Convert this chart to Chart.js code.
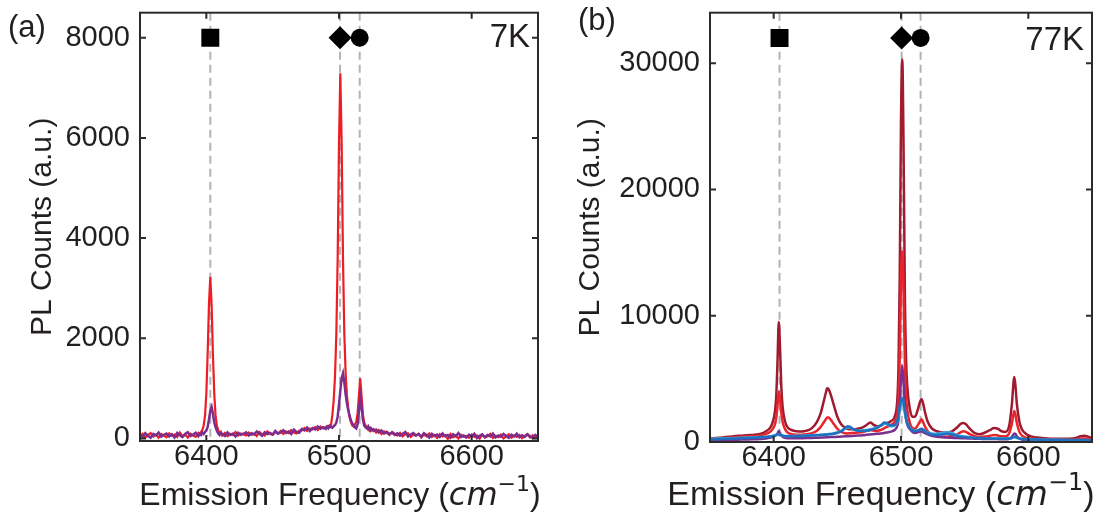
<!DOCTYPE html>
<html>
<head>
<meta charset="utf-8">
<title>PL spectra 7K / 77K</title>
<script src="https://cdn.jsdelivr.net/npm/chart.js@4.4.0/dist/chart.umd.min.js"></script>
<style>
  html, body { margin: 0; padding: 0; background: #fff; }
  #wrap { position: relative; width: 1109px; height: 516px; }
  canvas { position: absolute; top: 0; }
  #chartA { left: 0; }
  #chartB { left: 555px; }
</style>
</head>
<body>
<div id="wrap">
  <canvas id="chartA" width="555" height="516"></canvas>
  <canvas id="chartB" width="554" height="516"></canvas>
</div>
<script>
// ---- shared axis data ----
const freqTicks = [6400, 6500, 6600];
const countTicksA = [0, 2000, 4000, 6000, 8000];
const countTicksB = [0, 10000, 20000, 30000];

// peak guide positions (cm^-1) and the symbols drawn above them
const guidesA = [6403, 6500.8, 6515.6];
const guidesB = [6404.6, 6500.5, 6515.4];
const markerStyles = ['rect', 'rectRot', 'circle'];
const markerLevelA = 8000;
const markerLevelB = 32000;

// ---- panel (a): 7K ----
const freqA = [
  6350, 6352, 6354, 6356, 6358, 6360, 6362, 6364, 6366, 6368,
  6370, 6372, 6374, 6376, 6378, 6380, 6382, 6384, 6386, 6388,
  6390, 6392, 6394, 6395, 6396, 6397, 6398, 6399, 6400, 6401,
  6402, 6403, 6404, 6405, 6406, 6407, 6408, 6409, 6410, 6411,
  6412, 6414, 6416, 6418, 6420, 6422, 6424, 6426, 6428, 6430,
  6432, 6434, 6436, 6438, 6440, 6442, 6444, 6446, 6448, 6450,
  6452, 6454, 6456, 6458, 6460, 6462, 6464, 6466, 6468, 6470,
  6472, 6474, 6476, 6478, 6480, 6482, 6484, 6486, 6488, 6490,
  6491, 6492, 6493, 6494, 6495, 6496, 6497, 6498, 6499, 6500,
  6501, 6502, 6503, 6504, 6505, 6506, 6507, 6508, 6509, 6510,
  6511, 6512, 6513, 6514, 6515, 6516, 6517, 6518, 6519, 6520,
  6521, 6522, 6523, 6524, 6526, 6528, 6530, 6532, 6534, 6536,
  6538, 6540, 6542, 6544, 6546, 6548, 6550, 6552, 6554, 6556,
  6558, 6560, 6562, 6564, 6566, 6568, 6570, 6572, 6574, 6576,
  6578, 6580, 6582, 6584, 6586, 6588, 6590, 6592, 6594, 6596,
  6598, 6600, 6602, 6604, 6606, 6608, 6610, 6612, 6614, 6616,
  6618, 6620, 6622, 6624, 6626, 6628, 6630, 6632, 6634, 6636,
  6638, 6640, 6642, 6644, 6646, 6648, 6650
];
const redA = [
  40, 95, 20, 70, 110, 35, 80, 15, 90, 60,
  25, 100, 55, 80, 30, 120, 45, 75, 20, 95,
  60, 35, 110, 80, 130, 170, 260, 450, 900, 1700,
  2700, 3230, 2650, 1650, 880, 440, 250, 170, 90, 130,
  60, 110, 45, 90, 70, 130, 55, 100, 80, 60,
  120, 70, 100, 50, 130, 85, 60, 140, 95, 70,
  130, 100, 150, 90, 140, 110, 170, 120, 100, 160,
  160, 210, 150, 200, 180, 230, 170, 240, 200, 230,
  210, 250, 230, 270, 470, 760, 1250, 2100, 3600, 5900,
  7290, 5900, 3600, 2100, 1300, 850, 600, 420, 330, 260,
  240, 280, 330, 500, 850, 1200, 850, 480, 320, 260,
  230, 180, 210, 150, 190, 120, 170, 90, 140, 110,
  70, 130, 95, 60, 110, 40, 85, 105, 30, 75,
  55, 95, 20, 80, 45, 100, 30, 70, 10, 85,
  40, 65, -10, 90, 25, 55, 0, 75, 35, 50,
  15, 80, 30, 60, -5, 70, 20, 45, 90, 10,
  55, 25, 75, 0, 40, 85, 15, 60, 30, 70,
  5, 50, 80, 20, 65, 10, 45
];
const purpleA = [
  70, 30, 105, 55, 15, 90, 60, 120, 35, 75,
  100, 40, 85, 20, 110, 65, 30, 90, 125, 50,
  80, 115, 45, 95, 70, 120, 90, 130, 160, 230,
  380, 560, 630, 490, 320, 220, 150, 100, 70, 110,
  90, 50, 120, 70, 100, 40, 115, 75, 95, 125,
  60, 105, 80, 140, 95, 55, 125, 90, 110, 80,
  150, 95, 120, 165, 110, 140, 90, 175, 130, 115,
  190, 160, 220, 150, 210, 180, 240, 195, 225, 190,
  240, 205, 255, 225, 215, 245, 270, 320, 440, 680,
  950, 1200, 1300, 1120, 880, 700, 560, 450, 360, 300,
  260, 220, 200, 280, 520, 845, 640, 380, 260, 220,
  200, 240, 170, 210, 150, 180, 120, 160, 100, 135,
  90, 120, 70, 105, 55, 95, 130, 40, 80, 110,
  60, 90, 35, 105, 70, 20, 95, 50, 80, 30,
  100, 45, 70, 15, 85, 50, 110, 30, 60, 20,
  75, 40, 95, 10, 55, 85, 25, 70, 40, 100,
  20, 60, 35, 90, 50, 15, 75, 40, 95, 25,
  65, 30, 85, 45, 10, 70, 35
];

// ---- panel (b): 77K ----
const freqB = [
  6350, 6355, 6360, 6365, 6370, 6375, 6380, 6385, 6390, 6394,
  6397, 6399, 6401, 6402, 6403, 6404, 6405, 6406, 6407, 6409,
  6411, 6414, 6418, 6422, 6426, 6430, 6434, 6437, 6439, 6441,
  6442, 6443, 6445, 6447, 6450, 6453, 6456, 6458, 6460, 6463,
  6466, 6470, 6473, 6476, 6478, 6481, 6484, 6487, 6489, 6492,
  6495, 6497, 6498, 6499, 6500, 6501, 6502, 6503, 6504, 6505,
  6507, 6509, 6511, 6513, 6515, 6516, 6517, 6519, 6521, 6524,
  6528, 6532, 6536, 6540, 6544, 6547, 6549, 6551, 6554, 6558,
  6562, 6566, 6570, 6573, 6576, 6579, 6582, 6585, 6587, 6589,
  6590, 6591, 6593, 6595, 6598, 6602, 6607, 6612, 6617, 6622,
  6627, 6632, 6637, 6641, 6644, 6647, 6650
];
const darkRedB = [
  300, 320, 360, 410, 470, 500, 540, 580, 650, 850,
  1100, 1500, 2400, 3600, 6300, 9500, 7500, 4400, 2800, 1600,
  1150, 950, 850, 830, 900, 1100, 1600, 2300, 3100, 3900,
  4250, 4200, 3700, 3000, 2000, 1400, 1150, 1050, 1000, 1000,
  1050, 1150, 1350, 1550, 1400, 1250, 1300, 1450, 1500, 1650,
  2000, 3200, 5800, 13000, 25500, 30300, 23500, 12000, 6500, 4300,
  2600, 2000, 2000, 2500, 3200, 3400, 3200, 2300, 1600, 1100,
  850, 750, 750, 850, 1150, 1450, 1500, 1400, 1050, 700,
  620, 750, 950, 1100, 1050, 850, 800, 1300, 2900, 5150,
  4300, 3000, 1600, 1000, 650, 450, 350, 300, 260, 250,
  250, 260, 320, 450, 500, 420, 300
];
const redB = [
  250, 270, 300, 340, 380, 410, 440, 470, 520, 650,
  800, 1000, 1400, 1900, 2900, 4000, 3400, 2300, 1600, 1000,
  750, 620, 580, 580, 620, 700, 900, 1200, 1500, 1800,
  1950, 1950, 1750, 1450, 1050, 800, 700, 680, 700, 720,
  750, 800, 880, 950, 900, 880, 950, 1100, 1200, 1350,
  1600, 2200, 3300, 6800, 13000, 15100, 12000, 6500, 3600, 2500,
  1500, 1100, 1050, 1300, 1650, 1800, 1650, 1200, 850, 600,
  480, 420, 420, 480, 600, 780, 850, 800, 620, 450,
  400, 430, 500, 560, 520, 450, 450, 700, 1400, 2450,
  2100, 1500, 800, 500, 350, 250, 200, 180, 170, 160,
  160, 170, 200, 260, 280, 240, 180
];
const purpleB = [
  100, 120, 140, 150, 170, 190, 200, 220, 240, 280,
  330, 380, 480, 560, 660, 880, 700, 540, 420, 330,
  300, 290, 290, 300, 310, 320, 340, 350, 360, 370,
  380, 380, 390, 400, 410, 430, 450, 460, 470, 490,
  510, 540, 570, 600, 620, 650, 680, 720, 760, 820,
  950, 1250, 1700, 3000, 5000, 6050, 4700, 2900, 1800, 1350,
  1000, 800, 720, 760, 820, 850, 800, 700, 600, 500,
  420, 380, 350, 330, 310, 300, 300, 290, 280, 260,
  250, 240, 240, 240, 230, 220, 220, 260, 400, 680,
  620, 450, 280, 200, 160, 140, 120, 110, 100, 100,
  100, 100, 100, 110, 110, 100, 90
];
const blueB = [
  200, 220, 240, 260, 280, 300, 320, 340, 370, 400,
  430, 460, 520, 560, 600, 630, 590, 540, 500, 460,
  450, 450, 460, 470, 490, 510, 530, 550, 560, 580,
  590, 600, 620, 650, 720, 850, 1100, 1250, 1200, 1000,
  900, 880, 900, 950, 1000, 1100, 1300, 1550, 1500, 1300,
  1350, 1650, 2100, 2800, 3300, 3460, 3200, 2500, 1900, 1500,
  1100, 900, 850, 900, 1000, 1050, 1000, 850, 700, 600,
  550, 600, 650, 600, 480, 420, 400, 380, 350, 320,
  300, 280, 270, 270, 260, 250, 250, 270, 320, 420,
  400, 340, 280, 240, 220, 200, 190, 180, 170, 160,
  160, 150, 150, 150, 150, 140, 130
];
const lightBlueB = [
  250, 270, 290, 300, 320, 340, 360, 380, 400, 420,
  450, 470, 520, 550, 580, 600, 570, 530, 500, 480,
  470, 480, 490, 500, 520, 540, 560, 580, 600, 610,
  620, 630, 650, 680, 750, 880, 1050, 1150, 1120, 980,
  920, 920, 950, 1000, 1050, 1150, 1300, 1450, 1400, 1250,
  1300, 1550, 1950, 2600, 3000, 3150, 2900, 2300, 1800, 1450,
  1150, 950, 900, 930, 1000, 1050, 1000, 880, 760, 680,
  650, 720, 780, 720, 560, 470, 440, 410, 380, 340,
  320, 300, 290, 280, 270, 270, 270, 280, 310, 380,
  360, 320, 280, 250, 230, 210, 200, 190, 180, 170,
  170, 160, 160, 160, 160, 150, 140
];

const FONT = '"Liberation Sans", Arial, sans-serif';
const INK = '#231f20';

function pairs(xs, ys) {
  return xs.map((x, i) => ({ x: x, y: ys[i] }));
}

function spectrum(xs, ys, color, width, smooth) {
  return {
    data: pairs(xs, ys),
    borderColor: color,
    borderWidth: width,
    pointRadius: 0,
    tension: 0,
    cubicInterpolationMode: smooth ? 'monotone' : 'default',
    fill: false
  };
}

function markerSet(guides, level) {
  return {
    data: guides.map(f => ({ x: f, y: level })),
    showLine: false,
    pointStyle: markerStyles,
    pointRadius: [12.7, 11.5, 9],
    pointBackgroundColor: '#000',
    pointBorderColor: '#000',
    pointBorderWidth: 0
  };
}

// x axis title, with the italic unit and its superscript
function drawFreqTitle(ctx, cx, baseY, size) {
  const parts = [
    { text: 'Emission Frequency (', font: `${size}px ${FONT}`, dy: 0 },
    { text: 'cm', font: `italic ${size}px "DejaVu Sans"`, dy: 0 },
    { text: '\u22121', font: `${Math.round(size * 0.7)}px "DejaVu Sans"`, dy: -Math.round(size * 0.43) },
    { text: ')', font: `${size}px ${FONT}`, dy: 0 }
  ];
  let total = 0;
  parts.forEach(p => { ctx.font = p.font; p.w = ctx.measureText(p.text).width; total += p.w; });
  let px = cx - total / 2;
  ctx.textAlign = 'left';
  ctx.textBaseline = 'alphabetic';
  parts.forEach(p => {
    ctx.font = p.font;
    ctx.fillText(p.text, px, baseY + p.dy);
    px += p.w;
  });
}

const panelDecor = {
  id: 'panelDecor',
  beforeDatasetsDraw(chart, args, opts) {
    const { ctx, chartArea: area, scales: { x } } = chart;
    ctx.save();
    ctx.strokeStyle = '#b3b3b3';
    ctx.lineWidth = 2;
    ctx.setLineDash([8, 5]);
    opts.guides.forEach(f => {
      const px = x.getPixelForValue(f);
      ctx.beginPath();
      ctx.moveTo(px, area.top);
      ctx.lineTo(px, area.bottom);
      ctx.stroke();
    });
    ctx.restore();
  },
  afterDraw(chart, args, opts) {
    const { ctx, chartArea: area, scales: { x, y } } = chart;
    ctx.save();
    ctx.strokeStyle = '#2b2b2b';
    ctx.lineWidth = 2;
    ctx.strokeRect(area.left, area.top, area.right - area.left, area.bottom - area.top);

    // ticks point inward on all four sides
    ctx.beginPath();
    x.ticks.forEach(t => {
      const px = x.getPixelForValue(t.value);
      ctx.moveTo(px, area.bottom); ctx.lineTo(px, area.bottom - 6);
      ctx.moveTo(px, area.top); ctx.lineTo(px, area.top + 6);
    });
    y.ticks.forEach(t => {
      const py = y.getPixelForValue(t.value);
      ctx.moveTo(area.left, py); ctx.lineTo(area.left + 6, py);
      ctx.moveTo(area.right, py); ctx.lineTo(area.right - 6, py);
    });
    ctx.stroke();

    ctx.fillStyle = INK;
    ctx.textBaseline = 'alphabetic';
    ctx.font = `31px ${FONT}`;
    ctx.textAlign = 'left';
    ctx.fillText(opts.tag, opts.tagX, opts.tagY);

    ctx.font = `33px ${FONT}`;
    ctx.textAlign = 'right';
    ctx.fillText(opts.temp, area.right - 8, area.top + opts.tempDy);

    ctx.save();
    ctx.translate(opts.yTitleX, (area.top + area.bottom) / 2);
    ctx.rotate(-Math.PI / 2);
    ctx.textAlign = 'center';
    ctx.textBaseline = 'middle';
    ctx.font = `30px ${FONT}`;
    ctx.fillText('PL Counts (a.u.)', 0, 0);
    ctx.restore();

    drawFreqTitle(ctx, (area.left + area.right) / 2 + opts.xTitleShift, opts.xTitleY, opts.xTitleSize);
    ctx.restore();
  }
};

function buildPanel(canvasId, p) {
  return new Chart(document.getElementById(canvasId), {
    type: 'line',
    data: { datasets: p.datasets },
    options: {
      responsive: false,
      animation: false,
      devicePixelRatio: 1,
      layout: { padding: { left: 0, right: p.padRight, top: p.padTop, bottom: 0 } },
      plugins: {
        legend: { display: false },
        tooltip: { enabled: false },
        panelDecor: p.decor
      },
      scales: {
        x: {
          type: 'linear',
          min: 6350,
          max: 6650,
          grid: { display: false, drawTicks: false },
          border: { display: false },
          afterBuildTicks: s => { s.ticks = freqTicks.map(v => ({ value: v })); },
          afterFit: s => {
            s.height = p.xHeight;
            s.paddingLeft = 0;
            s.paddingRight = 0;
          },
          ticks: {
            font: { family: FONT, size: 29 },
            color: INK,
            padding: -1,
            maxRotation: 0,
            callback: v => String(v)
          }
        },
        y: {
          type: 'linear',
          min: p.yMin,
          max: p.yMax,
          grid: { display: false, drawTicks: false },
          border: { display: false },
          afterBuildTicks: s => { s.ticks = p.yTicks.map(v => ({ value: v })); },
          afterFit: s => {
            s.width = p.yWidth;
            s.paddingTop = 0;
            s.paddingBottom = 0;
          },
          ticks: {
            font: { family: FONT, size: 29 },
            color: INK,
            padding: 10,
            callback: v => String(v)
          }
        }
      }
    },
    plugins: [panelDecor]
  });
}

buildPanel('chartA', {
  padRight: 17, padTop: 11, xHeight: 75, yWidth: 140,
  yMin: -50, yMax: 8500, yTicks: countTicksA,
  datasets: [
    markerSet(guidesA, markerLevelA),
    spectrum(freqA, purpleA, '#7b2e8d', 2.5, false),
    spectrum(freqA, redA, '#ee1d23', 2.2, false)
  ],
  decor: {
    guides: guidesA, tag: '(a)', tagX: 8, tagY: 37,
    temp: '7K', tempDy: 34, yTitleX: 43,
    xTitleY: 505, xTitleShift: 1, xTitleSize: 32
  }
});

buildPanel('chartB', {
  padRight: 17, padTop: 11, xHeight: 74, yWidth: 155,
  yMin: 0, yMax: 34000, yTicks: countTicksB,
  datasets: [
    markerSet(guidesB, markerLevelB),
    spectrum(freqB, blueB, '#1f6fbe', 2.5, true),
    spectrum(freqB, lightBlueB, '#3aa8e0', 2.5, true),
    spectrum(freqB, purpleB, '#7a2f8c', 2.5, true),
    spectrum(freqB, redB, '#e8252b', 2.5, true),
    spectrum(freqB, darkRedB, '#a01b30', 2.5, true)
  ],
  decor: {
    guides: guidesB, tag: '(b)', tagX: 23, tagY: 30,
    temp: '77K', tempDy: 37, yTitleX: 36,
    xTitleY: 505, xTitleShift: -20, xTitleSize: 34
  }
});
</script>
</body>
</html>
